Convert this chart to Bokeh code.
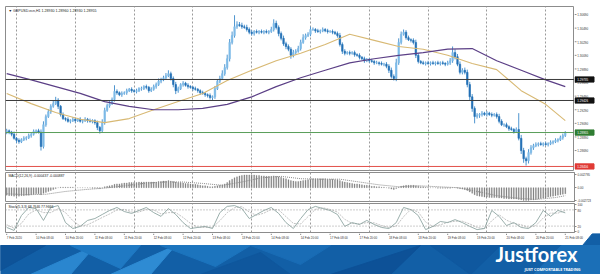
import numpy as np
from bokeh.plotting import figure
from bokeh.layouts import column, row
from bokeh.models import (Range1d, LinearAxis, FixedTicker, Label, Span, Grid,
                          ColumnDataSource, PrintfTickFormatter)
from bokeh.core.properties import value
from bokeh.embed import file_html
from bokeh.resources import INLINE

# ---------------- data ----------------
closes = [
    1.2898, 1.2896, 1.2893, 1.2887, 1.2884, 1.2882, 1.2885, 1.2887, 1.2888, 1.2891,
    1.2893, 1.2897, 1.2898, 1.2896, 1.2875, 1.2907, 1.2919, 1.2926, 1.2934, 1.2938,
    1.2943, 1.2934, 1.2922, 1.2916, 1.2915, 1.2912, 1.2913, 1.2915, 1.2913, 1.2915,
    1.2912, 1.2913, 1.2915, 1.2913, 1.2912, 1.2913, 1.2910, 1.2903, 1.2898, 1.2910,
    1.2928, 1.2935, 1.2938, 1.2944, 1.2956, 1.2954, 1.2951, 1.2953, 1.2954, 1.2957,
    1.2959, 1.2957, 1.2956, 1.2957, 1.2960, 1.2960, 1.2963, 1.2962, 1.2957, 1.2959,
    1.2963, 1.2966, 1.2971, 1.2973, 1.2976, 1.2979, 1.2982, 1.2975, 1.2966, 1.2957,
    1.2960, 1.2966, 1.2968, 1.2965, 1.2963, 1.2962, 1.2960, 1.2959, 1.2957, 1.2954,
    1.2953, 1.2951, 1.2950, 1.2947, 1.2948, 1.2960, 1.2971, 1.2975, 1.2982, 1.2991,
    1.3004, 1.3028, 1.3038, 1.3051, 1.3054, 1.3053, 1.3051, 1.3050, 1.3047, 1.3043,
    1.3041, 1.3044, 1.3043, 1.3044, 1.3043, 1.3044, 1.3043, 1.3044, 1.3047, 1.3056,
    1.3050, 1.3041, 1.3034, 1.3026, 1.3022, 1.3018, 1.3009, 1.3013, 1.3015, 1.3019,
    1.3028, 1.3035, 1.3038, 1.3040, 1.3047, 1.3047, 1.3045, 1.3044, 1.3045, 1.3047,
    1.3045, 1.3044, 1.3044, 1.3043, 1.3041, 1.3038, 1.3025, 1.3015, 1.3012, 1.3013,
    1.3012, 1.3013, 1.3010, 1.3009, 1.3006, 1.3004, 1.3001, 1.3003, 1.3001, 1.3000,
    1.2998, 1.2998, 1.2997, 1.2996, 1.2996, 1.2993, 1.2987, 1.2978, 1.2975, 1.2998,
    1.3028, 1.3040, 1.3043, 1.3035, 1.3032, 1.3031, 1.3028, 1.3009, 1.3000, 1.2998,
    1.2997, 1.2998, 1.2997, 1.2998, 1.2997, 1.2998, 1.2997, 1.2998, 1.2997, 1.2996,
    1.2998, 1.3001, 1.3013, 1.3007, 1.2996, 1.2984, 1.2987, 1.2984, 1.2966, 1.2948,
    1.2931, 1.2919, 1.2921, 1.2922, 1.2924, 1.2922, 1.2924, 1.2922, 1.2921, 1.2922,
    1.2919, 1.2912, 1.2907, 1.2907, 1.2904, 1.2901, 1.2900, 1.2897, 1.2900, 1.2887,
    1.2869, 1.2857, 1.2854, 1.2866, 1.2873, 1.2876, 1.2878, 1.2879, 1.2878, 1.2879,
    1.2878, 1.2879, 1.2881, 1.2882, 1.2884, 1.2885, 1.2888, 1.2891, 1.28955,
]
first_open = 1.2895

upper_wick_pips = [
    3, 2, 2, 4, 2, 3, 2, 3, 2, 3,   2, 3, 2, 3, 4, 5, 3, 4, 3, 4,
    5, 3, 2, 3, 2, 3, 2, 3, 2, 2,   3, 2, 3, 2, 3, 2, 2, 3, 2, 5,
    4, 3, 4, 3, 9, 3, 2, 3, 2, 3,   2, 3, 2, 3, 2, 3, 2, 3, 2, 3,
    3, 3, 4, 3, 3, 4, 5, 3, 3, 4,   3, 2, 3, 2, 3, 2, 2, 3, 2, 2,
    3, 2, 2, 3, 2, 4, 3, 4, 5, 5,   6, 5, 6, 17, 5, 4, 4, 3, 4, 3,
    3, 2, 3, 2, 3, 2, 3, 2, 4, 6,   4, 3, 3, 4, 3, 3, 3, 4, 3, 4,
    4, 5, 3, 3, 4, 3, 2, 3, 2, 3,   2, 3, 2, 3, 2, 3, 4, 3, 3, 2,
    3, 2, 3, 2, 3, 2, 3, 2, 2, 3,   2, 3, 2, 3, 2, 3, 3, 4, 3, 6,
    6, 4, 4, 3, 3, 2, 3, 4, 3, 2,   3, 2, 3, 2, 3, 2, 3, 2, 3, 2,
    3, 4, 9, 5, 4, 4, 3, 4, 4, 4,   4, 3, 3, 2, 3, 2, 3, 2, 3, 2,
    3, 4, 3, 2, 3, 2, 3, 2, 3, 24,  5, 4, 3, 5, 4, 3, 3, 2, 3, 2,
    3, 2, 3, 2, 3, 2, 3, 3, 2,
]
lower_wick_pips = [
    2, 3, 3, 2, 4, 3, 2, 2, 3, 2,   3, 2, 3, 2, 6, 3, 3, 2, 3, 2,
    2, 4, 3, 2, 3, 2, 3, 2, 3, 2,   2, 3, 2, 3, 2, 3, 3, 4, 4, 3,
    3, 2, 3, 2, 3, 3, 2, 3, 2, 3,   2, 3, 2, 3, 2, 3, 2, 3, 3, 2,
    2, 3, 2, 3, 2, 3, 2, 3, 4, 5,   3, 2, 3, 2, 3, 2, 3, 2, 3, 3,
    2, 3, 3, 3, 4, 3, 2, 3, 2, 3,   3, 4, 3, 3, 3, 2, 3, 2, 3, 3,
    3, 3, 2, 3, 2, 3, 2, 3, 2, 3,   3, 4, 3, 3, 4, 3, 5, 3, 3, 2,
    3, 2, 3, 2, 3, 2, 3, 2, 3, 2,   2, 3, 2, 3, 2, 3, 3, 4, 3, 2,
    3, 2, 3, 2, 3, 2, 3, 2, 3, 2,   3, 2, 3, 2, 3, 3, 4, 3, 3, 4,
    3, 3, 2, 3, 2, 3, 3, 4, 3, 2,   2, 3, 2, 3, 2, 3, 2, 3, 2, 3,
    2, 3, 3, 4, 3, 3, 3, 3, 4, 5,   5, 10, 3, 4, 3, 2, 3, 2, 3, 2,
    3, 3, 2, 3, 2, 3, 2, 3, 2, 3,   5, 6, 7, 4, 3, 3, 2, 3, 2, 3,
    2, 3, 2, 3, 2, 3, 2, 3, 2,
]

ma_idx = [0, 10, 20, 30, 40, 50, 60, 70, 80, 90, 100, 110, 120, 130, 140, 150,
          160, 170, 180, 190, 200, 210, 220, 228]
ma_tan = [1.2953, 1.2938, 1.2925, 1.2915, 1.2910, 1.2916, 1.2929, 1.2941,
          1.2953, 1.2972, 1.2987, 1.3001, 1.3012, 1.3025, 1.3040, 1.3031,
          1.3022, 1.3018, 1.3009, 1.2997, 1.2988, 1.2957, 1.2937, 1.2913]
ma_purple = [1.2982, 1.2973, 1.2963, 1.2953, 1.2941, 1.2934, 1.2929, 1.2929,
             1.2931, 1.2937, 1.2948, 1.2963, 1.2976, 1.2987, 1.2998, 1.3004,
             1.3009, 1.3013, 1.3018, 1.3019, 1.3001, 1.2987, 1.2973, 1.2963]

black_levels = [1.29735, 1.29426]
green_level = 1.28955
red_level = 1.28456

price_ticks = [1.28690, 1.28890, 1.29090, 1.29290, 1.29490, 1.29690,
               1.29890, 1.30090, 1.30290, 1.30490, 1.30690]

macd_main = [
    -0.0016, -0.0017, -0.0017, -0.0018, -0.0018, -0.0018, -0.0017,
    -0.0017, -0.0016, -0.0016, -0.0015, -0.0014, -0.0013,
    -0.0013, -0.0015, -0.0012, -0.0010, -0.0008, -0.0006, -0.0004, -0.0002,
    0.0000, 0.0001, 0.0001, 0.0001, 0.0001, 0.0001, 0.0001, 0.0000, 0.0000,
    0.0000, 0.0000, 0.0000, 0.0000, 0.0000, -0.0001, -0.0001, -0.0001, -0.0002,
    0.0000, 0.0002, 0.0003, 0.0004, 0.0005, 0.0007, 0.0008, 0.0008, 0.0009, 0.0010,
    0.0010, 0.0011, 0.0011, 0.0011, 0.0011, 0.0012, 0.0012, 0.0012, 0.0012, 0.0012,
    0.0012, 0.0012, 0.0012, 0.0013, 0.0013, 0.0014, 0.0014, 0.0015, 0.0014, 0.0013,
    0.0012, 0.0011, 0.0011, 0.0010, 0.0009, 0.0009, 0.0008, 0.0007, 0.0007, 0.0006,
    0.0005, 0.0004, 0.0004, 0.0003, 0.0002, 0.0002, 0.0003, 0.0004, 0.0005, 0.0006,
    0.0008, 0.0011, 0.0015, 0.0018, 0.0021, 0.0023, 0.0025, 0.0026, 0.0027, 0.0027,
    0.0027, 0.0027,
    0.0027, 0.0026, 0.0026, 0.0025, 0.0025, 0.0024, 0.0024, 0.0024, 0.0025, 0.0024,
    0.0023, 0.0022,
    0.0020, 0.0019, 0.0017, 0.0015, 0.0014, 0.0013, 0.0013, 0.0014, 0.0015, 0.0016,
    0.0017, 0.0018, 0.0019,
    0.0019, 0.0019, 0.0019, 0.0019, 0.0019, 0.0018, 0.0018, 0.0018, 0.0017, 0.0017,
    0.0015, 0.0013, 0.0012, 0.0011, 0.0010, 0.0009, 0.0008, 0.0008, 0.0007, 0.0006,
    0.0005, 0.0005, 0.0004, 0.0003, 0.0003, 0.0002, 0.0002, 0.0001, 0.0001, 0.0000,
    -0.0001, -0.0003, -0.0004,
    -0.0002, 0.0001, 0.0003, 0.0004, 0.0005, 0.0005, 0.0005, 0.0005,
    0.0004, 0.0003, 0.0002, 0.0002, 0.0001, 0.0001, 0.0000, 0.0000, 0.0000,
    -0.0001, -0.0001, -0.0001, -0.0001, -0.0001, -0.0001, 0.0000, 0.0000, -0.0001,
    -0.0002, -0.0003, -0.0004, -0.0006, -0.0009, -0.0012, -0.0015, -0.0017,
    -0.0018, -0.0019, -0.0020, -0.0020, -0.0021, -0.0021, -0.0021, -0.0021,
    -0.0022, -0.0022, -0.0023, -0.0023, -0.0024, -0.0024, -0.0024, -0.0024,
    -0.0025, -0.0026, -0.0027, -0.0027,
    -0.0027, -0.0026, -0.0026, -0.0025, -0.0024, -0.0023, -0.0022, -0.0021,
    -0.0020, -0.0019, -0.0018, -0.0017, -0.0016, -0.0015, -0.0014, -0.0013,
]
macd_sig_idx = [0, 8, 16, 24, 32, 40, 48, 56, 64, 72, 80, 88, 96, 104, 112, 120,
                128, 136, 144, 152, 160, 168, 176, 184, 192, 200, 208, 216, 224, 228]
macd_signal = [-0.0013, -0.0015, -0.0014, -0.0008, -0.0004, -0.0001, 0.0004, 0.0009,
               0.0012, 0.0012, 0.0009, 0.0005, 0.0012, 0.0021, 0.0024, 0.0019,
               0.0018, 0.0018, 0.0012, 0.0006, 0.0002, 0.0004, 0.0002, 0.0000,
               -0.0008, -0.0017, -0.0022, -0.0025, -0.0021, -0.0017]
macd_ticks = [-0.002723, 0.0, 0.002795]

stoch_idx = list(range(0, 229, 3))
stoch_main = [15, 4, 59, 89, 85, 41, 89, 96, 33, 11,
              19, 41, 48, 63, 78, 89, 74, 67, 78, 89,
              70, 56, 85, 63, 33, 11, 15, 19, 11, 70,
              93, 96, 85, 48, 63, 78, 89, 67, 33, 11,
              48, 81, 93, 85, 78, 63, 19, 33, 26, 41,
              26, 15, 11, 33, 89, 81, 59, 7, 19, 37,
              33, 44, 33, 19, 7, 11, 78, 56, 22, 33,
              15, 11, 33, 78, 56, 78, 69]
stoch_signal = [25, 12, 30, 65, 80, 70, 70, 85, 70, 40,
                20, 25, 38, 52, 65, 80, 82, 72, 72, 82,
                80, 65, 70, 70, 52, 30, 16, 15, 15, 40,
                70, 88, 92, 72, 60, 68, 82, 80, 55, 30,
                28, 55, 82, 88, 82, 72, 45, 30, 28, 33,
                32, 22, 15, 20, 55, 82, 72, 35, 18, 25,
                34, 38, 38, 28, 15, 10, 40, 62, 42, 30,
                25, 15, 22, 50, 68, 68, 78]
stoch_ticks = [0, 20, 80, 100]
stoch_levels = [20, 80]

time_idx = [0, 12, 24, 36, 48, 60, 72, 84, 96, 108, 120, 132, 144, 156, 168,
            180, 192, 204, 216, 228]
time_labels = ["7 Feb 2020", "10 Feb 08:00", "10 Feb 20:00", "11 Feb 08:00",
               "11 Feb 20:00", "12 Feb 08:00", "12 Feb 20:00", "13 Feb 08:00",
               "13 Feb 20:00", "14 Feb 08:00", "14 Feb 20:00", "17 Feb 08:00",
               "17 Feb 20:00", "18 Feb 08:00", "18 Feb 20:00", "19 Feb 08:00",
               "19 Feb 20:00", "20 Feb 08:00", "20 Feb 20:00", "21 Feb 08:00"]
day_idx = [4, 28, 52, 76, 100, 124, 148, 172, 196, 220]

title_main = "\u25bc GBPUSD.ecn,H1  1.28930 1.28960 1.28930 1.28955"
title_macd = "MACD(12,26,9) -0.000437 -0.000887"
title_stoch = "Stoch(5,3,3) 68.7646 77.9666"

# ---------------- styling ----------------
FONT = "Liberation Sans"
AX_FS = "3px"
BORDER = "#8c8c8c"
GRID = "#9a9a9a"
BULL = "#7dbbe8"
BEAR = "#2470b5"
WICK = "#4f95cf"

X0, X1 = -0.49, 231.76          # candle-index range of the panels' frame
FRAME_L, FRAME_R = 5, 26        # px borders left / right
PX = (600 - FRAME_L - FRAME_R) / (X1 - X0)
xr = Range1d(X0, X1)


def noalign(p):
    try:
        p.frame_align = False
    except Exception:
        pass


def panel(w, h, top, bottom, right, yr):
    p = figure(width=w, height=h, x_range=xr, y_range=yr, output_backend="svg",
               toolbar_location=None, x_axis_location=None, y_axis_location=None,
               min_border_left=FRAME_L, min_border_right=right, min_border_top=top,
               min_border_bottom=bottom)
    noalign(p)
    p.outline_line_color = BORDER
    p.outline_line_width = 1
    p.background_fill_color = "white"
    p.border_fill_color = "white"
    p.xgrid.visible = False
    p.ygrid.visible = False
    p.add_layout(Grid(dimension=0, ticker=FixedTicker(ticks=day_idx),
                      grid_line_color=GRID, grid_line_dash="2 2", grid_line_width=1))
    return p


def right_axis(p, ticks, formatter=None, overrides=None):
    ax = LinearAxis(ticker=FixedTicker(ticks=ticks))
    if formatter is not None:
        ax.formatter = formatter
    if overrides:
        ax.major_label_overrides = overrides
    ax.major_label_text_font_size = AX_FS
    ax.major_label_text_font = FONT
    ax.major_label_text_color = "#333333"
    ax.major_tick_in = 0
    ax.major_tick_out = 2
    ax.minor_tick_in = 0
    ax.minor_tick_out = 0
    ax.axis_line_color = BORDER
    ax.major_tick_line_color = BORDER
    ax.major_label_standoff = 1
    p.add_layout(ax, "right")
    return ax


# ---------------- main price panel ----------------
c = np.array(closes)
o = np.concatenate([[first_open], c[:-1]])
hi = np.maximum(o, c) + np.array(upper_wick_pips) * 1e-4
lo = np.minimum(o, c) - np.array(lower_wick_pips) * 1e-4
idx = np.arange(len(c))
up = c >= o

price_range = Range1d(1.28382, 1.30808)
pa = panel(600 - FRAME_R, 171, 6, 0, 0, price_range)

pa.segment(x0=idx, y0=hi, x1=idx, y1=lo, line_color=WICK, line_width=1)
src_up = ColumnDataSource(dict(x=idx[up], top=c[up], bottom=o[up]))
src_dn = ColumnDataSource(dict(x=idx[~up], top=o[~up], bottom=c[~up]))
pa.vbar(x="x", top="top", bottom="bottom", width=0.62, source=src_up,
        fill_color=BULL, line_color=BULL, line_width=0.6)
pa.vbar(x="x", top="top", bottom="bottom", width=0.62, source=src_dn,
        fill_color=BEAR, line_color=BEAR, line_width=0.6)

pa.line(ma_idx, ma_tan, line_color="#d8b974", line_width=1.1)
pa.line(ma_idx, ma_purple, line_color="#5b3f86", line_width=1.2)

for lv in black_levels:
    pa.add_layout(Span(location=lv, dimension="width", line_color="#3a3a3a", line_width=1))
pa.add_layout(Span(location=green_level, dimension="width", line_color="#5a9e5a", line_width=1))
pa.add_layout(Span(location=red_level, dimension="width", line_color="#e2504a", line_width=1))

pa.add_layout(Label(x=X0, y=1.30808, x_offset=3, y_offset=-2, text=title_main,
                    text_font=FONT, text_font_size="3.6px", text_color="#222222",
                    text_baseline="top", text_align="left"))

# price scale strip (shares the price range; its frame is the whole strip)
strip = figure(width=FRAME_R, height=171, x_range=Range1d(0, FRAME_R), y_range=price_range,
               output_backend="svg", toolbar_location=None, x_axis_location=None,
               y_axis_location=None, min_border_left=0, min_border_right=0,
               min_border_top=6, min_border_bottom=0)
noalign(strip)
strip.outline_line_color = None
strip.xgrid.visible = False
strip.ygrid.visible = False
strip.background_fill_color = "white"
strip.border_fill_color = "white"

tick_src = ColumnDataSource(dict(y=price_ticks, text=["%.5f" % t for t in price_ticks]))
strip.segment(x0=0, y0="y", x1=2, y1="y", source=tick_src, line_color=BORDER, line_width=1)
strip.text(x=2.8, y="y", text="text", source=tick_src, text_font=value(FONT),
           text_font_size=AX_FS, text_color="#333333", text_baseline="middle",
           text_align="left")

box_prices = black_levels + [green_level, red_level]
box_colors = ["#111111", "#111111", "#2f7d32", "#e03a35"]
half_h = 2.6 * (price_range.end - price_range.start) / 165.0
box_src = ColumnDataSource(dict(y=box_prices, top=[b + half_h for b in box_prices],
                                bottom=[b - half_h for b in box_prices],
                                color=box_colors, text=["%.5f" % b for b in box_prices]))
strip.quad(left=0.5, right=19.5, top="top", bottom="bottom", source=box_src,
           fill_color="color", line_color="color")
strip.text(x=2.8, y="y", text="text", source=box_src, text_font=value(FONT),
           text_font_size=AX_FS, text_color="white", text_baseline="middle",
           text_align="left")

# ---------------- MACD panel ----------------
pb = panel(600, 31, 1, 0, FRAME_R, Range1d(-0.003147, 0.003219))
right_axis(pb, macd_ticks, PrintfTickFormatter(format="%.6f"), {0: "0.00"})
pb.vbar(x=idx, top=macd_main, bottom=0, width=0.35, fill_color="#777777",
        line_color="#777777", line_width=0.3)
pb.line(macd_sig_idx, macd_signal, line_color="#8a8a8a", line_width=1, line_dash="1 1")
pb.add_layout(Label(x=X0, y=0.003219, x_offset=3, y_offset=-1.5, text=title_macd,
                    text_font=FONT, text_font_size="3.4px", text_color="#222222",
                    text_baseline="top", text_align="left"))

# ---------------- Stochastic panel ----------------
pc = panel(600, 31, 1, 1, FRAME_R, Range1d(-3.7, 103.7))
right_axis(pc, stoch_ticks)
for lv in stoch_levels:
    pc.add_layout(Span(location=lv, dimension="width", line_color="#9a9a9a",
                       line_width=1, line_dash="1 2"))
pc.line(stoch_idx, stoch_signal, line_color="#bcbcbc", line_width=0.9, line_dash="2 1")
pc.line(stoch_idx, stoch_main, line_color="#8ea6a3", line_width=0.9)
pc.add_layout(Label(x=X0, y=103.7, x_offset=3, y_offset=-1.5, text=title_stoch,
                    text_font=FONT, text_font_size="3.4px", text_color="#222222",
                    text_baseline="top", text_align="left"))

# ---------------- time labels + banner (frame spans the whole width) ----------------
BH = 41
pdn = figure(width=600, height=BH, x_range=Range1d(0, 600), y_range=Range1d(0, BH),
             output_backend="svg", toolbar_location=None, x_axis_location=None,
             y_axis_location=None, min_border=0)
noalign(pdn)
pdn.outline_line_color = None
pdn.xgrid.visible = False
pdn.ygrid.visible = False
pdn.background_fill_color = "white"
pdn.border_fill_color = "white"
# candle-index scale for the time labels, same px mapping as the panels above
pdn.extra_x_ranges = {"t": Range1d(X0 - FRAME_L / PX, X0 + (600 - FRAME_L) / PX)}

tsrc = ColumnDataSource(dict(x=time_idx, y=[BH] * len(time_idx), text=time_labels))
pdn.segment(x0="x", y0="y", x1="x", y1=BH - 1.5, source=tsrc, x_range_name="t",
            line_color="#888888", line_width=1)
pdn.text(x="x", y="y", text="text", source=tsrc, x_range_name="t", y_offset=4.5,
         text_font=value(FONT), text_font_size=AX_FS, text_color="#333333",
         text_align="left", text_baseline="middle")

pdn.patch([0, 600, 600, 592, 582, 0], [0, 0, BH, BH, 29, 29], color="#125fa6")
shards = [
    ([0, 45, 0], [29, 29, 4], "#0e5398"),
    ([30, 95, 70], [0, 29, 0], "#2a86cf"),
    ([70, 140, 120], [29, 29, 6], "#1f79c3"),
    ([110, 175, 150], [0, 29, 0], "#2e8bd3"),
    ([160, 250, 215], [29, 29, 8], "#1c74bd"),
    ([200, 260, 290], [0, 22, 0], "#0f579d"),
    ([250, 330, 300], [29, 29, 10], "#196cb5"),
    ([330, 420, 390], [0, 29, 0], "#0d5197"),
    ([430, 500, 470], [29, 29, 0], "#0f589f"),
    ([533, 561, 600, 600], [0, 29, 29, 0], "#1b6fb7"),
]
for xs, ys, col in shards:
    pdn.patch(xs, ys, color=col)

pdn.add_layout(Label(x=536, y=21, text="Justforex", text_font="Lato",
                     text_font_style="bold", text_font_size="20px", text_color="white",
                     text_align="center", text_baseline="middle"))
pdn.add_layout(Label(x=580, y=5.5, text="JUST COMFORTABLE TRADING", text_font="Open Sans",
                     text_font_style="bold", text_font_size="3.8px", text_color="white",
                     text_align="right", text_baseline="middle"))

layout = column(row(pa, strip, spacing=0), pb, pc, pdn, spacing=0)
open("out.html", "w").write(file_html(layout, INLINE))
